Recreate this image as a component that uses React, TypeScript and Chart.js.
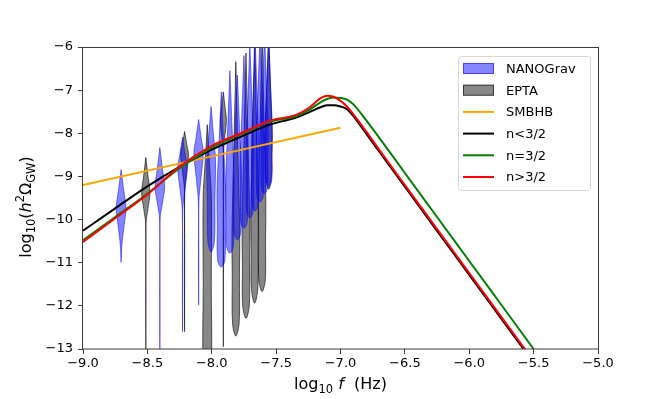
import React, { useEffect, useRef } from 'react';
import { Chart, registerables } from 'chart.js';

Chart.register(...registerables);

// ---------- data ----------
// NANOGrav violins (log10 f, and log10 h^2 Omega extents)
const nanoLogF = [-8.704, -8.403, -8.227, -8.102, -8.005, -7.926, -7.859, -7.801, -7.75, -7.704, -7.663, -7.625, -7.59, -7.558];
const nanoTop = [-8.84, -8.33, -8.09, -7.68, -7.38, -7.04, -6.55, -6.65, -6.2, -5.9, -5.8, -5.7, -5.7, -5.8];
const nanoMode = [-9.74, -9.25, -8.8, -8.45, -8.6, -9.3, -9.1, -8.9, -8.7, -8.5, -8.3, -8.1, -8.0, -7.9];
const nanoBodyEnd = [-10.6, -10.0, -9.8, -9.6, -10.5, -10.95, -10.6, -10.3, -10.05, -9.8, -9.65, -9.45, -9.25, -9.1];
const nanoBottom = [-10.99, -13.0, -12.6, -11.98, -10.75, -11.1, -10.78, -10.47, -10.2, -9.96, -9.8, -9.59, -9.4, -9.24];
const nanoHalfW = [0.038, 0.037, 0.037, 0.036, 0.034, 0.033, 0.032, 0.031, 0.03, 0.03, 0.029, 0.029, 0.028, 0.028];
const nanoTail = [0.15, 0.05, 0.05, 0.05, 0.75, 0.85, 0.85, 0.85, 0.85, 0.85, 0.85, 0.85, 0.85, 0.85];

// EPTA violins
const eptaLogF = [-8.512, -8.211, -8.035, -7.91, -7.813, -7.734, -7.667, -7.609, -7.558];
const eptaTop = [-8.56, -7.96, -7.8, -7.04, -6.34, -6.14, -5.8, -5.7, -5.7];
const eptaMode = [-9.38, -8.5, -9.5, -7.7, -10.3, -10.1, -9.8, -9.6, -8.0];
const eptaBodyEnd = [-10.1, -9.3, -13.5, -8.4, -12.4, -12.0, -11.6, -11.4, -9.0];
const eptaBottom = [-13.0, -12.6, -13.6, -12.95, -12.7, -12.29, -11.94, -11.67, -9.3];
const eptaHalfW = [0.032, 0.03, 0.032, 0.024, 0.03, 0.03, 0.029, 0.029, 0.027];
const eptaTail = [0.05, 0.05, 0.95, 0.05, 0.85, 0.85, 0.85, 0.85, 0.8];

// SMBHB line
const smbhbX = [-9.0, -7.0];
const smbhbY = [-9.2, -7.87];

// model curves
const curveX = [-9, -8.75, -8.5, -8.25, -8.0, -7.75, -7.55, -7.35, -7.25, -7.15, -7.1, -7.05, -7.0, -6.95, -6.9, -6.8, -6.7, -6.5, -6.25, -6.0, -5.75, -5.5];
const nLessY = [-10.26, -9.74, -9.23, -8.78, -8.38, -8.05, -7.8, -7.64, -7.52, -7.39, -7.35, -7.35, -7.38, -7.44, -7.6, -8.01, -8.42, -9.24, -10.26, -11.28, -12.3, -13.32];
const nEqualY = [-10.48, -9.94, -9.4, -8.81, -8.33, -7.99, -7.73, -7.61, -7.47, -7.27, -7.2, -7.17, -7.18, -7.22, -7.33, -7.7, -8.1, -8.92, -9.94, -10.96, -11.98, -13.0];
const nMoreY = [-10.52, -9.97, -9.42, -8.77, -8.29, -7.97, -7.71, -7.58, -7.42, -7.18, -7.13, -7.16, -7.25, -7.38, -7.56, -7.96, -8.38, -9.2, -10.22, -11.24, -12.26, -13.28];

const xTicksMin = -9, xTicksMax = -5, xStep = 0.5;
const yTicksMin = -13, yTicksMax = -6, yStep = 1;

const legendLabels = ['NANOGrav', 'EPTA', 'SMBHB', 'n<3/2', 'n=3/2', 'n>3/2'];

// ---------- styles ----------
const FONT = "'DejaVu Sans', 'Liberation Sans', sans-serif";
const NANO_FILL = 'rgba(0,0,255,0.48)';
const NANO_EDGE = 'rgba(0,0,255,0.5)';
const EPTA_FILL = 'rgba(0,0,0,0.47)';
const EPTA_EDGE = 'rgba(0,0,0,0.6)';
const ORANGE = '#FFA500';
const BLACK = '#000000';
const GREEN = '#008000';
const RED = '#FF0000';

function violinShape(x: number, top: number, mode: number, bodyEnd: number, bottom: number, w: number, tailFrac: number) {
  const tw = w * tailFrac;
  const prof: [number, number][] = [
    [top, 0],
    [top + (mode - top) * 0.55, 0.55 * w],
    [mode, w],
    [mode + (bodyEnd - mode) * 0.5, (w + tw) / 2],
    [bodyEnd, tw],
    [bottom, 0],
  ];
  const right = prof.map(([y, hw]) => ({ x: x + hw, y }));
  const left = prof.slice().reverse().map(([y, hw]) => ({ x: x - hw, y }));
  return [...right, ...left.slice(1)];
}

function fmtMinus(s: string) {
  return s.replace('-', '\u2212');
}

type Seg = { t: string; font: string; dy: number };

function drawSegs(ctx: CanvasRenderingContext2D, segs: Seg[], cx: number, baseline: number) {
  let total = 0;
  for (const s of segs) {
    ctx.font = s.font;
    total += ctx.measureText(s.t).width;
  }
  let x = cx - total / 2;
  ctx.textBaseline = 'alphabetic';
  ctx.textAlign = 'left';
  for (const s of segs) {
    ctx.font = s.font;
    ctx.fillText(s.t, x, baseline + s.dy);
    x += ctx.measureText(s.t).width;
  }
}

const decorPlugin = {
  id: 'decor',
  afterDraw(chart: any) {
    const ctx: CanvasRenderingContext2D = chart.ctx;
    const a = chart.chartArea;
    ctx.save();
    // frame
    ctx.strokeStyle = '#3a3a3a';
    ctx.lineWidth = 1;
    ctx.strokeRect(Math.round(a.left) - 0.5, Math.round(a.top) + 0.5, Math.round(a.right - a.left) + 1, Math.round(a.bottom - a.top) - 0.5);

    // legend
    const lx = 458.5, ly = 56.5, lw = 132, lh = 134, r = 3;
    ctx.beginPath();
    ctx.moveTo(lx + r, ly);
    ctx.lineTo(lx + lw - r, ly);
    ctx.quadraticCurveTo(lx + lw, ly, lx + lw, ly + r);
    ctx.lineTo(lx + lw, ly + lh - r);
    ctx.quadraticCurveTo(lx + lw, ly + lh, lx + lw - r, ly + lh);
    ctx.lineTo(lx + r, ly + lh);
    ctx.quadraticCurveTo(lx, ly + lh, lx, ly + lh - r);
    ctx.lineTo(lx, ly + r);
    ctx.quadraticCurveTo(lx, ly, lx + r, ly);
    ctx.closePath();
    ctx.fillStyle = 'rgba(255,255,255,0.8)';
    ctx.fill();
    ctx.strokeStyle = '#d6d6d6';
    ctx.stroke();

    const rowY0 = 68.5, rowStep = 21.7;
    const hx0 = 463, hx1 = 494, tx = 506;
    const lineColors = [ORANGE, BLACK, GREEN, RED];
    legendLabels.forEach((lab, i) => {
      const cy = rowY0 + i * rowStep;
      if (i === 0) {
        ctx.fillStyle = NANO_FILL;
        ctx.fillRect(hx0, cy - 5.5, hx1 - hx0, 11);
        ctx.strokeStyle = NANO_EDGE;
        ctx.strokeRect(hx0 + 0.5, cy - 5, hx1 - hx0 - 1, 10);
      } else if (i === 1) {
        ctx.fillStyle = EPTA_FILL;
        ctx.fillRect(hx0, cy - 5.5, hx1 - hx0, 11);
        ctx.strokeStyle = EPTA_EDGE;
        ctx.strokeRect(hx0 + 0.5, cy - 5, hx1 - hx0 - 1, 10);
      } else {
        ctx.strokeStyle = lineColors[i - 2];
        ctx.lineWidth = 2;
        ctx.beginPath();
        ctx.moveTo(hx0, cy);
        ctx.lineTo(hx1, cy);
        ctx.stroke();
        ctx.lineWidth = 1;
      }
      ctx.fillStyle = '#000';
      ctx.font = `13px ${FONT}`;
      ctx.textAlign = 'left';
      ctx.textBaseline = 'middle';
      ctx.fillText(lab, tx, cy + 1);
    });

    // axis titles
    ctx.fillStyle = '#000';
    const big = `16px ${FONT}`;
    const bigIt = `italic 16px ${FONT}`;
    const small = `11.5px ${FONT}`;
    drawSegs(ctx, [
      { t: 'log', font: big, dy: 0 },
      { t: '10', font: small, dy: 4 },
      { t: ' ', font: big, dy: 0 },
      { t: 'f', font: bigIt, dy: 0 },
      { t: '  (Hz)', font: big, dy: 0 },
    ], (a.left + a.right) / 2, 389);

    ctx.save();
    ctx.translate(31, 207);
    ctx.rotate(-Math.PI / 2);
    drawSegs(ctx, [
      { t: 'log', font: big, dy: 0 },
      { t: '10', font: small, dy: 4 },
      { t: '(', font: big, dy: 0 },
      { t: 'h', font: bigIt, dy: 0 },
      { t: '2', font: small, dy: -7 },
      { t: '\u03A9', font: big, dy: 0 },
      { t: 'GW', font: small, dy: 4 },
      { t: ')', font: big, dy: 0 },
    ], 0, 0);
    ctx.restore();
    ctx.restore();
  },
};

function buildDatasets() {
  const ds: any[] = [];
  const lineBase = { showLine: true, pointRadius: 0, borderWidth: 2, fill: false, cubicInterpolationMode: 'monotone', clip: 0 };
  ds.push({ ...lineBase, label: 'n>3/2', data: curveX.map((x, i) => ({ x, y: nMoreY[i] })), borderColor: RED, order: 0 });
  ds.push({ ...lineBase, label: 'n=3/2', data: curveX.map((x, i) => ({ x, y: nEqualY[i] })), borderColor: GREEN, order: 1 });
  ds.push({ ...lineBase, label: 'n<3/2', data: curveX.map((x, i) => ({ x, y: nLessY[i] })), borderColor: BLACK, order: 2 });
  ds.push({ ...lineBase, label: 'SMBHB', data: smbhbX.map((x, i) => ({ x, y: smbhbY[i] })), borderColor: ORANGE, order: 3 });
  nanoLogF.forEach((x, i) => {
    ds.push({
      label: 'NANOGrav', showLine: true, pointRadius: 0, borderWidth: 1, tension: 0.35, clip: 0,
      fill: 'shape', backgroundColor: NANO_FILL, borderColor: NANO_EDGE, order: 4,
      data: violinShape(x, nanoTop[i], nanoMode[i], nanoBodyEnd[i], nanoBottom[i], nanoHalfW[i], nanoTail[i]),
    });
  });
  eptaLogF.forEach((x, i) => {
    ds.push({
      label: 'EPTA', showLine: true, pointRadius: 0, borderWidth: 1, tension: 0.35, clip: 0,
      fill: 'shape', backgroundColor: EPTA_FILL, borderColor: EPTA_EDGE, order: 5,
      data: violinShape(x, eptaTop[i], eptaMode[i], eptaBodyEnd[i], eptaBottom[i], eptaHalfW[i], eptaTail[i]),
    });
  });
  return ds;
}

export default function App() {
  const ref = useRef<HTMLCanvasElement>(null);
  useEffect(() => {
    if (!ref.current) return;
    const tickFont = { family: FONT, size: 13 };
    const chart = new Chart(ref.current, {
      type: 'scatter',
      data: { datasets: buildDatasets() },
      options: {
        responsive: false,
        animation: false,
        devicePixelRatio: 1,
        events: [],
        layout: { padding: { left: 0, top: 47, right: 66, bottom: 0 } },
        plugins: { legend: { display: false }, tooltip: { enabled: false }, title: { display: false } },
        scales: {
          x: {
            type: 'linear',
            min: xTicksMin,
            max: xTicksMax,
            ticks: {
              stepSize: xStep,
              autoSkip: false,
              maxRotation: 0,
              color: '#000',
              font: tickFont,
              padding: 2,
              callback: (v: any) => fmtMinus(Number(v).toFixed(1)),
            },
            grid: { display: true, drawOnChartArea: false, drawTicks: true, tickLength: 5, color: '#3a3a3a', lineWidth: 1 },
            border: { display: false },
            afterFit: (s: any) => { s.height = 50; },
          },
          y: {
            type: 'linear',
            min: yTicksMin,
            max: yTicksMax,
            ticks: {
              stepSize: yStep,
              autoSkip: false,
              color: '#000',
              font: tickFont,
              padding: 5,
              callback: (v: any) => fmtMinus(String(Math.round(Number(v)))),
            },
            grid: { display: true, drawOnChartArea: false, drawTicks: true, tickLength: 5, color: '#3a3a3a', lineWidth: 1 },
            border: { display: false },
            afterFit: (s: any) => { s.width = 83; },
          },
        },
      } as any,
      plugins: [decorPlugin],
    });
    return () => chart.destroy();
  }, []);
  return (
    <div style={{ position: 'fixed', left: 0, top: 0, width: 664, height: 399, background: '#fff' }}>
      <canvas ref={ref} width={664} height={399} style={{ display: 'block', width: 664, height: 399 }} />
    </div>
  );
}
